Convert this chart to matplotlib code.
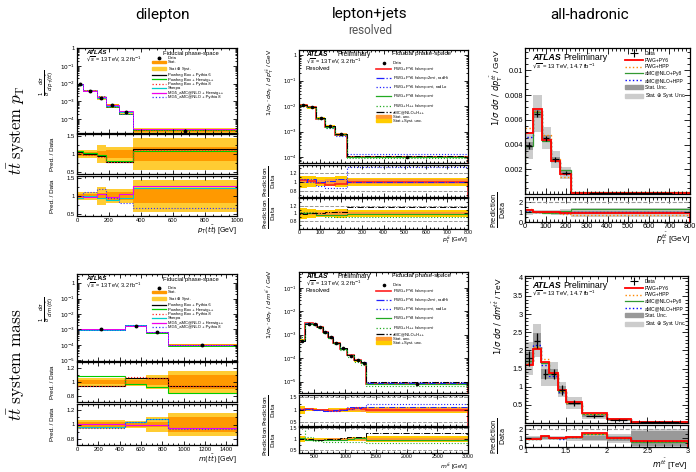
import numpy as np
import matplotlib
matplotlib.use('Agg')
import matplotlib.pyplot as plt
from matplotlib.lines import Line2D
from matplotlib.patches import Patch
from matplotlib.ticker import FuncFormatter, MultipleLocator

plt.rcParams['font.family'] = ['Liberation Sans', 'DejaVu Sans']

# ---------------- dilepton, pT(tt)
dl_pt_edges = [0, 40, 125, 180, 260, 350, 1000]
dl_pt_data = [9e-3, 4e-3, 1.6e-3, 6e-4, 2.5e-4, 2.2e-5]
dl_pt_stat = [0.05, 0.05, 0.08, 0.10, 0.10, 0.20]
dl_pt_tot = [0.12, 0.10, 0.25, 0.20, 0.20, 0.45]
dl_pt_pp6 = [1.05, 1.00, 0.95, 0.78, 0.78, 1.13]
dl_pt_ph = [1.07, 1.02, 0.96, 0.80, 0.80, 1.08]
dl_pt_pp8 = [1.04, 0.98, 0.93, 0.77, 0.77, 1.11]
dl_pt_sherpa = [0.95, 1.00, 0.95, 0.88, 0.95, 1.22]
dl_pt_mgh = [1.00, 0.98, 1.05, 0.98, 1.06, 1.27]
dl_pt_mgp8 = [1.00, 1.12, 1.18, 0.95, 0.80, 0.66]

# ---------------- dilepton, m(tt)
dl_m_edges = [0, 450, 650, 850, 1500]
dl_m_data = [1.0e-3, 1.8e-3, 6.5e-4, 1.0e-4]
dl_m_stat = [0.03, 0.03, 0.04, 0.10]
dl_m_tot = [0.06, 0.05, 0.10, 0.16]
dl_m_pp6 = [0.95, 1.06, 1.06, 0.95]
dl_m_ph = [1.08, 0.97, 0.93, 0.84]
dl_m_pp8 = [0.94, 1.07, 1.05, 0.95]
dl_m_sherpa = [0.96, 1.03, 1.08, 0.95]
dl_m_mgh = [1.01, 0.99, 0.99, 0.95]
dl_m_mgp8 = [0.95, 1.04, 1.07, 0.94]

# ---------------- lepton+jets, pT(tt)
lj_pt_edges = [0, 40, 80, 125, 170, 225, 800]
lj_pt_data = [1.1e-2, 9e-3, 3.4e-3, 1.6e-3, 8e-4, 1.0e-4]
lj_pt_stat = [0.04, 0.03, 0.04, 0.05, 0.06, 0.05]
lj_pt_tot = [0.13, 0.12, 0.10, 0.10, 0.12, 0.09]
lj_pt_py6 = [1.03, 1.02, 0.96, 0.93, 0.95, 1.00]
lj_pt_radhi = [1.00, 1.06, 1.00, 1.02, 1.05, 1.00]
lj_pt_radlo = [1.05, 1.00, 0.90, 0.85, 0.85, 1.32]
lj_pt_py8 = [1.00, 1.02, 0.97, 0.95, 0.97, 0.98]
lj_pt_hpp = [1.05, 1.05, 0.95, 0.90, 0.90, 0.91]
lj_pt_amc = [0.98, 1.00, 1.00, 1.03, 1.05, 1.16]

# ---------------- lepton+jets, m(tt)
lj_m_edges = [250, 350, 470, 550, 640, 720, 810, 910, 1030, 1150, 1260, 1340, 3000]
lj_m_data = [5.5e-4, 3.0e-3, 2.8e-3, 2.2e-3, 1.3e-3, 8e-4, 4.5e-4, 2.6e-4, 1.3e-4, 8e-5, 6e-5, 8e-6]
lj_m_stat = [0.06, 0.02, 0.02, 0.02, 0.02, 0.03, 0.03, 0.04, 0.05, 0.06, 0.07, 0.07]
lj_m_tot = [0.15, 0.06, 0.06, 0.05, 0.05, 0.06, 0.06, 0.07, 0.08, 0.10, 0.10, 0.13]
lj_m_py6 = [1.00, 1.03, 1.00, 0.98, 0.98, 0.97, 0.96, 0.98, 1.05, 1.06, 1.03, 0.98]
lj_m_radhi = [1.00, 1.02, 1.00, 1.00, 0.97, 0.97, 0.98, 1.00, 1.10, 1.08, 1.10, 1.12]
lj_m_radlo = [1.05, 1.02, 1.00, 0.98, 0.97, 0.96, 0.95, 0.98, 1.03, 1.10, 1.12, 1.24]
lj_m_py8 = [1.05, 0.98, 0.95, 0.95, 0.95, 0.95, 0.95, 0.97, 1.02, 1.05, 1.05, 0.95]
lj_m_hpp = [1.50, 1.10, 0.90, 0.90, 0.88, 0.88, 0.88, 0.87, 0.88, 0.88, 0.88, 0.84]
lj_m_amc = [1.00, 1.00, 0.98, 0.98, 1.00, 1.00, 1.02, 1.05, 1.10, 1.10, 1.10, 1.27]

# ---------------- all-hadronic, pT(tt)
ah_pt_edges = [0, 40, 80, 125, 170, 225, 800]
ah_pt_data = [0.0039, 0.0065, 0.0045, 0.0028, 0.0017, 0.0001]
ah_pt_err = [0.0003, 0.0003, 0.0002, 0.0002, 0.00015, 0.00002]
ah_pt_stat = [0.08, 0.05, 0.06, 0.07, 0.08, 0.15]
ah_pt_tot = [0.28, 0.23, 0.20, 0.25, 0.30, 0.45]
ah_pt_pwgpy6 = [0.0049, 0.0069, 0.0044, 0.0027, 0.0016, 0.0001]
ah_pt_pwghpp = [0.0053, 0.0067, 0.0048, 0.0028, 0.0014, 0.00008]
ah_pt_amcpy8 = [0.0039, 0.0066, 0.0043, 0.0027, 0.0019, 0.00015]
ah_pt_amchpp = [0.0046, 0.0067, 0.0044, 0.0027, 0.0016, 0.00012]
ah_pt_r_pwgpy6 = [1.25, 1.05, 0.98, 0.96, 0.95, 0.93]
ah_pt_r_pwghpp = [1.35, 1.00, 1.05, 1.00, 0.80, 0.67]
ah_pt_r_amcpy8 = [1.00, 1.00, 0.95, 0.95, 1.10, 1.27]
ah_pt_r_amchpp = [1.15, 1.02, 1.00, 0.97, 0.95, 1.00]

# ---------------- all-hadronic, m(tt) [TeV]
ah_m_edges = [1.0, 1.1, 1.2, 1.3, 1.4, 1.5, 1.7, 2.0, 2.3, 3.0]
ah_m_data = [1.78, 2.27, 1.35, 1.35, 0.92, 0.55, 0.19, 0.09, 0.03]
ah_m_err = [0.20, 0.20, 0.15, 0.15, 0.14, 0.08, 0.05, 0.03, 0.02]
ah_m_stat = [0.10, 0.09, 0.10, 0.10, 0.12, 0.12, 0.20, 0.30, 0.85]
ah_m_tot = [0.25, 0.20, 0.25, 0.25, 0.22, 0.30, 0.35, 0.50, 1.10]
ah_m_pwgpy6 = [1.60, 2.03, 1.68, 1.38, 0.90, 0.57, 0.27, 0.10, 0.025]
ah_m_pwghpp = [1.65, 2.10, 1.75, 1.40, 0.88, 0.55, 0.25, 0.10, 0.02]
ah_m_amcpy8 = [1.70, 2.07, 1.65, 1.35, 0.87, 0.55, 0.25, 0.10, 0.02]
ah_m_amchpp = [1.65, 2.15, 1.60, 1.30, 0.85, 0.55, 0.25, 0.10, 0.02]
ah_m_r_pwgpy6 = [0.92, 0.92, 1.30, 1.00, 1.00, 1.15, 1.55, 1.00, 0.70]
ah_m_r_pwghpp = [0.93, 0.95, 1.30, 1.03, 0.98, 1.12, 1.50, 1.00, 0.65]
ah_m_r_amcpy8 = [0.95, 0.92, 1.25, 1.00, 0.97, 1.10, 1.50, 1.00, 0.62]
ah_m_r_amchpp = [0.93, 0.95, 1.22, 0.97, 0.95, 1.12, 1.52, 1.00, 0.65]

W, H = 696, 472
fig = plt.figure(figsize=(W / 100, H / 100), dpi=100)


def rect(x0, y0, x1, y1):
    return [x0 / W, 1 - y1 / H, (x1 - x0) / W, (y1 - y0) / H]


def put(x, y, s, **kw):
    kw.setdefault('va', 'center')
    fig.text(x / W, 1 - y / H, s, **kw)


def style(ax, fs, major=3.5, minor=2.0):
    ax.minorticks_on()
    ax.tick_params(which='both', direction='in', top=True, right=True,
                   labelsize=fs, pad=1.5, width=0.6)
    ax.tick_params(which='major', length=major)
    ax.tick_params(which='minor', length=minor)
    for s in ax.spines.values():
        s.set_linewidth(0.9)


def bands(ax, edges, center, stat, tot, c_stat, c_tot):
    center = np.asarray(center, float)
    stat, tot = np.asarray(stat), np.asarray(tot)
    ax.stairs(center * (1 + tot), edges, baseline=center * (1 - tot),
              fill=True, color=c_tot, lw=0)
    ax.stairs(center * (1 + stat), edges, baseline=center * (1 - stat),
              fill=True, color=c_stat, lw=0)


def centers(edges):
    e = np.asarray(edges, float)
    return 0.5 * (e[1:] + e[:-1]), 0.5 * (e[1:] - e[:-1])


logfmt = FuncFormatter(lambda v, p: '1' if abs(v - 1) < 1e-9
                       else r'$10^{%d}$' % int(round(np.log10(v))))
gfmt = FuncFormatter(lambda v, p: '%g' % v)

# ---------------- dilepton
DL_STAT, DL_TOT = '#ff9900', '#ffcc33'
dl_style = [('black', '-'), ('#00cc00', '-'), ('#ff2020', ':'),
            ('#00cccc', '-'), ('#ee00ee', '-'), ('#3030ff', ':')]
dl_labels = ['Powheg Box + Pythia 6', 'Powheg Box + Herwig++',
             'Powheg Box + Pythia 8', 'Sherpa',
             'MG5_aMC@NLO + Herwig++', 'MG5_aMC@NLO + Pythia 8']


def dilepton(ys, edges, data, stat, tot, models, xlim, xstep, ylim, rlim,
             rticks, xlabel, ylabel, leg_y):
    m = fig.add_axes(rect(77, ys[0], 237, ys[1]))
    rs = [fig.add_axes(rect(77, ys[2], 237, ys[3])),
          fig.add_axes(rect(77, ys[4], 237, ys[5]))]
    data = np.asarray(data)
    bands(m, edges, data, stat, tot, DL_STAT, DL_TOT)
    for r, (c, ls) in zip(models, dl_style):
        m.stairs(data * np.asarray(r), edges, color=c, ls=ls, lw=0.7)
    xc, xw = centers(edges)
    m.errorbar(xc, data, yerr=data * np.asarray(stat), fmt='o', color='black',
               ms=1.8, lw=0.5, capsize=0)
    m.set_yscale('log')
    m.set_ylim(ylim)
    m.yaxis.set_major_formatter(logfmt)
    for k, a in enumerate(rs):
        bands(a, edges, np.ones(len(data)), stat, tot, DL_STAT, DL_TOT)
        for r, (c, ls) in zip(models[3 * k:3 * k + 3], dl_style[3 * k:3 * k + 3]):
            a.stairs(r, edges, color=c, ls=ls, lw=0.8)
        a.set_ylim(rlim)
        a.set_yticks(rticks)
        a.yaxis.set_major_formatter(gfmt)
    for a in [m] + rs:
        a.set_xlim(xlim)
        a.xaxis.set_major_locator(MultipleLocator(xstep))
        style(a, 4.2, 3, 1.6)
    for a in rs:
        a.yaxis.set_minor_locator(MultipleLocator((rticks[1] - rticks[0]) / 2))
    m.tick_params(labelbottom=False)
    rs[0].tick_params(labelbottom=False)
    put(47, (ys[0] + ys[1]) / 2 - 8, ylabel, rotation=90, ha='center', fontsize=5.5)
    for k in range(2):
        put(53, (ys[2 + 2 * k] + ys[3 + 2 * k]) / 2, 'Pred. / Data',
            rotation=90, ha='center', fontsize=4.5)
    put(237, ys[5] + 8, xlabel, ha='right', va='top', fontsize=5)
    put(86, ys[0] + 5, 'ATLAS', fontsize=4.5, weight='bold', style='italic')
    put(86, ys[0] + 11.5, r'$\sqrt{s}$ = 13 TeV, 3.2 fb$^{-1}$', fontsize=4)
    put(163, ys[0] + 5, 'Fiducial phase-space', fontsize=4.2)
    handles = [Line2D([], [], marker='o', color='black', ls='none', ms=1.8),
               Patch(color=DL_STAT), Patch(color=DL_TOT)]
    handles += [Line2D([], [], color=c, ls=ls, lw=0.9) for c, ls in dl_style]
    labels = ['Data', 'Stat.', r'Stat $\oplus$ Syst.'] + dl_labels
    m.legend(handles, labels, loc='upper left', bbox_to_anchor=(152 / W, 1 - leg_y / H),
             bbox_transform=fig.transFigure, frameon=False, fontsize=3.0,
             handlelength=3.3, handleheight=0.5, labelspacing=0.1, borderpad=0,
             borderaxespad=0, handletextpad=0.5)


dilepton((48, 133, 134, 174, 176, 216), dl_pt_edges, dl_pt_data, dl_pt_stat, dl_pt_tot,
         [dl_pt_pp6, dl_pt_ph, dl_pt_pp8, dl_pt_sherpa, dl_pt_mgh, dl_pt_mgp8],
         (0, 1000), 200, (1.6e-5, 1.05), (0.45, 1.55), [0.5, 1.0, 1.5],
         r'$p_{\mathrm{T}}(t\bar{t})$ [GeV]',
         r'$\frac{1}{\sigma}\,\frac{d\sigma}{d\,p_{\mathrm{T}}(t\bar{t})}$', 56)
dilepton((274, 361, 362, 402, 404, 445), dl_m_edges, dl_m_data, dl_m_stat, dl_m_tot,
         [dl_m_pp6, dl_m_ph, dl_m_pp8, dl_m_sherpa, dl_m_mgh, dl_m_mgp8],
         (0, 1500), 200, (9e-6, 4), (0.72, 1.28), [0.8, 1.0, 1.2],
         r'$m(t\bar{t})$ [GeV]',
         r'$\frac{1}{\sigma}\,\frac{d\sigma}{d\,m(t\bar{t})}$', 286)

# ---------------- lepton+jets
LJ_STAT, LJ_TOT = '#ff9933', '#ffcc00'
lj_style = [('#ff2020', '-', 1.2), ('#2020ff', '-.', 0.7), ('#2020ff', ':', 0.8),
            ('#22aa22', '-', 0.8), ('#22aa22', ':', 0.8), ('black', '-.', 0.7)]
hd = r'$h_{\rm damp}$'
lj_labels = ['PWG+PY6 ' + hd + '=$m_t$', 'PWG+PY6 ' + hd + '=2$m_t$, radHi',
             'PWG+PY6 ' + hd + '=$m_t$, radLo', 'PWG+PY8 ' + hd + '=$m_t$',
             'PWG+H++ ' + hd + '=$m_t$', 'aMC@NLO+H++']


def lepjets(ys, edges, data, stat, tot, models, xlim, xticks, ylim, r1lim, r2lim,
            rticks, rdash, xlabel, ylabel, xlab_y):
    m = fig.add_axes(rect(299, ys[0], 468, ys[1]))
    rs = [fig.add_axes(rect(299, ys[2], 468, ys[3])),
          fig.add_axes(rect(299, ys[4], 468, ys[5]))]
    data = np.asarray(data)
    bands(m, edges, data, stat, tot, LJ_STAT, LJ_TOT)
    for r, (c, ls, lw) in zip(models, lj_style):
        m.stairs(data * np.asarray(r), edges, color=c, ls=ls, lw=lw)
    xc, xw = centers(edges)
    m.errorbar(xc, data, yerr=data * np.asarray(stat), fmt='o', color='black',
               ms=1.6, lw=0.5, capsize=0)
    m.set_yscale('log')
    m.set_ylim(ylim)
    m.yaxis.set_major_formatter(logfmt)
    for k, (a, lim) in enumerate(zip(rs, [r1lim, r2lim])):
        bands(a, edges, np.ones(len(data)), stat, tot, LJ_STAT, LJ_TOT)
        for y in rdash:
            a.axhline(y, color='#999999', ls='--', lw=0.7)
        sel = [0, 1, 2] if k == 0 else [3, 4, 5]
        for i in sel:
            c, ls, lw = lj_style[i]
            a.stairs(models[i], edges, color=c, ls=ls, lw=lw)
        a.set_ylim(lim)
        a.set_yticks(rticks)
        a.yaxis.set_major_formatter(gfmt)
    for a in [m] + rs:
        a.set_xlim(xlim)
        a.set_xticks(xticks)
        style(a, 3.8, 3, 1.6)
    for a in rs:
        a.yaxis.set_minor_locator(MultipleLocator((rticks[1] - rticks[0]) / 2))
    m.tick_params(labelbottom=False)
    rs[0].tick_params(labelbottom=False)
    rs[1].tick_params(axis='x', pad=1)
    put(270, ys[0] + 32, ylabel, rotation=90, ha='center', fontsize=4.6)
    for k in range(2):
        put(270, (ys[2 + 2 * k] + ys[3 + 2 * k]) / 2,
            r'$\frac{\mathrm{Prediction}}{\mathrm{Data}}$',
            rotation=90, ha='center', fontsize=6)
    put(468, xlab_y, xlabel, ha='right', va='bottom', fontsize=4.3)
    put(306, ys[0] + 4, 'ATLAS', fontsize=4.8, weight='bold', style='italic')
    put(337, ys[0] + 4, 'Preliminary', fontsize=4.8)
    put(306, ys[0] + 11, r'$\sqrt{s}$ = 13 TeV, 3.2 fb$^{-1}$', fontsize=4)
    put(306, ys[0] + 19, 'Resolved', fontsize=4.2)
    put(392, ys[0] + 4, 'Fiducial phase-space', fontsize=4.5)
    handles = [Line2D([], [], marker='o', color='black', ls='none', ms=1.6)]
    handles += [Line2D([], [], color=c, ls=ls, lw=max(lw, 0.9)) for c, ls, lw in lj_style]
    handles += [Patch(color=LJ_STAT), Patch(color=LJ_TOT)]
    labels = ['Data'] + lj_labels + ['Stat. unc.', 'Stat.+Syst. unc.']
    m.legend(handles, labels, loc='upper left',
             bbox_to_anchor=(376 / W, 1 - (ys[0] + 11) / H),
             bbox_transform=fig.transFigure, frameon=False, fontsize=3.0,
             handlelength=3.6, handleheight=0.6, labelspacing=0.05, borderpad=0,
             borderaxespad=0, handletextpad=0.5)


lepjets((50, 163, 165, 197, 198, 229), lj_pt_edges, lj_pt_data, lj_pt_stat, lj_pt_tot,
        [lj_pt_py6, lj_pt_radhi, lj_pt_radlo, lj_pt_py8, lj_pt_hpp, lj_pt_amc],
        (0, 800), range(0, 801, 100), (5.9e-5, 1.58), (0.66, 1.37), (0.6, 1.4),
        [0.8, 1.0, 1.2], [0.8, 1.2], r'$p_{\mathrm{T}}^{t\bar{t}}$ [GeV]',
        r'$1/\sigma_{\mathrm{F}}\cdot d\sigma_{\mathrm{F}}\ /\ d\,p_{\mathrm{T}}^{t\bar{t}}$ / GeV',
        246)
lepjets((272, 393, 395, 426, 427, 453), lj_m_edges, lj_m_data, lj_m_stat, lj_m_tot,
        [lj_m_py6, lj_m_radhi, lj_m_radlo, lj_m_py8, lj_m_hpp, lj_m_amc],
        (250, 3000), range(500, 3001, 500), (3.3e-6, 0.47), (0.35, 1.6), (0.37, 1.55),
        [0.5, 1.0, 1.5], [0.5, 1.5], r'$m^{t\bar{t}}$ [GeV]',
        r'$1/\sigma_{\mathrm{F}}\cdot d\sigma_{\mathrm{F}}\ /\ d\,m^{t\bar{t}}$ / GeV',
        471.5)

# ---------------- all-hadronic
AH_STAT, AH_TOT = '#999999', '#cccccc'
ah_style = [('#ff0000', '-', 1.3), ('#ff8800', ':', 1.0),
            ('#339933', '-', 0.9), ('#0000ff', ':', 1.0)]
ah_labels = ['PWG+PY6', 'PWG+HPP', 'aMC@NLO+Py8', 'aMC@NLO+HPP']


def allhad(x1, ys, edges, data, err, stat, tot, preds, ratios, xlim, xticks,
           ylim, yticks, xlabel, ylabel, lumi_y, xlab_y):
    m = fig.add_axes(rect(525, ys[0], x1, ys[1]))
    r = fig.add_axes(rect(525, ys[2], x1, ys[3]))
    data = np.asarray(data)
    bands(m, edges, data, stat, tot, AH_STAT, AH_TOT)
    for p, (c, ls, lw) in zip(preds[::-1], ah_style[::-1]):
        m.stairs(p, edges, color=c, ls=ls, lw=lw)
    xc, xw = centers(edges)
    m.errorbar(xc, data, xerr=0.7 * xw, yerr=err, fmt='none', color='black',
               lw=0.9, capsize=0)
    m.set_ylim(ylim)
    m.set_yticks(yticks)
    m.yaxis.set_major_formatter(gfmt)
    bands(r, edges, np.ones(len(data)), stat, tot, AH_STAT, AH_TOT)
    r.axhline(2, color='#999999', ls='--', lw=0.8)
    for q, (c, ls, lw) in zip(ratios[::-1], ah_style[::-1]):
        r.stairs(q, edges, color=c, ls=ls, lw=lw)
    r.set_ylim(0, 2.5)
    r.set_yticks([0, 1, 2])
    for a in (m, r):
        a.set_xlim(xlim)
        a.set_xticks(xticks)
        a.xaxis.set_major_formatter(gfmt)
        style(a, 5.3, 4, 2)
    r.yaxis.set_minor_locator(MultipleLocator(0.5))
    r.tick_params(axis='x', pad=1)
    m.tick_params(labelbottom=False)
    put(497, ys[0] + 40, ylabel, rotation=90, ha='center', fontsize=6)
    put(499, (ys[2] + ys[3]) / 2, r'$\frac{\mathrm{Prediction}}{\mathrm{Data}}$',
        rotation=90, ha='center', fontsize=7)
    put(x1, xlab_y, xlabel, ha='right', va='bottom', fontsize=5.8)
    put(532, lumi_y, 'ATLAS', fontsize=6.3, weight='bold', style='italic')
    put(563, lumi_y, 'Preliminary', fontsize=6.3)
    put(532, lumi_y + 8, r'$\sqrt{s}$ = 13 TeV, 14.7 fb$^{-1}$', fontsize=4.3)
    handles = [Line2D([], [], marker='+', color='black', ls='none', ms=6, mew=0.8)]
    handles += [Line2D([], [], color=c, ls=ls, lw=lw) for c, ls, lw in ah_style]
    handles += [Patch(color=AH_STAT), Patch(color=AH_TOT)]
    labels = ['Data'] + ah_labels + ['Stat. Unc.', r'Stat. $\oplus$ Syst. Unc.']
    m.legend(handles, labels, loc='upper left',
             bbox_to_anchor=(625 / W, 1 - (ys[0] + 3) / H),
             bbox_transform=fig.transFigure, frameon=False, fontsize=3.6,
             handlelength=3.5, handleheight=0.9, labelspacing=0.35, borderpad=0,
             borderaxespad=0, handletextpad=0.5)


allhad(690, (48, 194, 197, 222), ah_pt_edges, ah_pt_data, ah_pt_err, ah_pt_stat, ah_pt_tot,
       [ah_pt_pwgpy6, ah_pt_pwghpp, ah_pt_amcpy8, ah_pt_amchpp],
       [ah_pt_r_pwgpy6, ah_pt_r_pwghpp, ah_pt_r_amcpy8, ah_pt_r_amchpp],
       (0, 800), range(0, 801, 100), (0, 0.0118), [0.002, 0.004, 0.006, 0.008, 0.01],
       r'$p_{\mathrm{T}}^{t\bar{t}}$ [GeV]',
       r'$1/\sigma\ d\sigma\ /\ dp_{\mathrm{T}}^{t\bar{t}}$ / GeV', 58, 247)
allhad(688, (276, 423, 425, 447), ah_m_edges, ah_m_data, ah_m_err, ah_m_stat, ah_m_tot,
       [ah_m_pwgpy6, ah_m_pwghpp, ah_m_amcpy8, ah_m_amchpp],
       [ah_m_r_pwgpy6, ah_m_r_pwghpp, ah_m_r_amcpy8, ah_m_r_amchpp],
       (1, 3), [1, 1.5, 2, 2.5, 3], (0, 4.05), [0.5, 1, 1.5, 2, 2.5, 3, 3.5, 4],
       r'$m^{t\bar{t}}$ [TeV]',
       r'$1/\sigma\ d\sigma\ /\ dm^{t\bar{t}}$ / TeV', 285, 471.5)

# ---------------- titles
put(162, 15, 'dilepton', ha='center', fontsize=11, family='Roboto')
put(370, 14, 'lepton+jets', ha='center', fontsize=11, family='Roboto')
put(370, 30, 'resolved', ha='center', fontsize=8.5, family='Roboto', color='#555555')
put(590, 15, 'all-hadronic', ha='center', fontsize=11, family='Roboto')
put(16, 130, r'$t\bar{t}\ \mathrm{system}\ p_{\mathrm{T}}$', rotation=90, ha='center',
    fontsize=12, math_fontfamily='cm')
put(16, 365, r'$t\bar{t}\ \mathrm{system\ mass}$', rotation=90, ha='center',
    fontsize=12.5, math_fontfamily='cm')

fig.savefig('out.png', dpi=100)
